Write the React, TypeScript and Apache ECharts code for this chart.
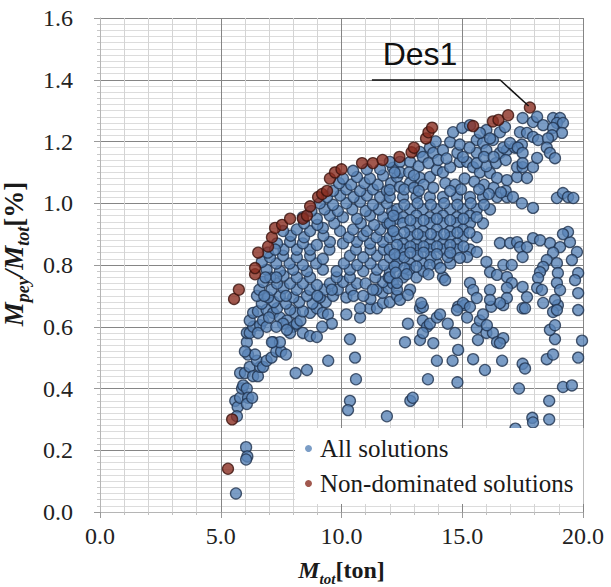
import React, { useEffect, useRef } from "react";
import * as echarts from "echarts";

// ---------- data ----------
const xTicks = [0, 5, 10, 15, 20];
const yTicks = [0, 0.2, 0.4, 0.6, 0.8, 1.0, 1.2, 1.4, 1.6];

const nonDominated: [number, number][] = [
  [5.3, 0.14], [5.47, 0.3], [5.55, 0.69], [5.75, 0.72], [6.42, 0.77], [6.42, 0.79],
  [6.55, 0.84], [6.96, 0.86], [7.12, 0.89], [7.25, 0.92], [7.54, 0.93], [7.87, 0.95],
  [8.4, 0.95], [8.57, 0.96], [8.7, 0.99], [9.03, 1.02], [9.2, 1.03], [9.4, 1.04],
  [9.52, 1.08], [9.73, 1.1], [10.0, 1.11], [10.85, 1.13], [11.3, 1.13], [11.7, 1.14],
  [12.4, 1.15], [12.9, 1.165], [13.0, 1.18], [13.5, 1.21], [13.6, 1.23], [13.75, 1.245],
  [15.45, 1.25], [16.27, 1.265], [16.5, 1.27], [16.9, 1.285], [17.8, 1.31],
];

const allSolutions: [number, number][] = [
  // lower-left tail
  [5.63, 0.06], [6.05, 0.21], [6.1, 0.18], [6.05, 0.17],
  [5.6, 0.36], [5.7, 0.34], [5.67, 0.31], [5.8, 0.37], [5.88, 0.4], [5.93, 0.41],
  [6.08, 0.4], [6.13, 0.37], [6.08, 0.35], [6.3, 0.37],
  [5.8, 0.45], [6.0, 0.45], [6.2, 0.47], [6.34, 0.44], [6.54, 0.44], [6.63, 0.47],
  [6.5, 0.49], [6.13, 0.51], [6.08, 0.55], [6.42, 0.51], [6.75, 0.47], [6.9, 0.49],
  [7.1, 0.5], [7.17, 0.55], [7.3, 0.52], [7.5, 0.52], [7.7, 0.51], [7.45, 0.55], [7.12, 0.55],
  [6.0, 0.52], [6.08, 0.58], [6.2, 0.58], [6.34, 0.6], [6.2, 0.62], [6.34, 0.645], [6.54, 0.65],
  [6.9, 0.655], [7.17, 0.645], [7.45, 0.63], [7.74, 0.62], [8.0, 0.6], [7.87, 0.58],
  [8.07, 0.645], [8.1, 0.45], [8.57, 0.46], [9.45, 0.49],
  [6.63, 0.605], [6.54, 0.58], [6.75, 0.62], [7.58, 0.61], [7.74, 0.59], [8.15, 0.61],
  [8.4, 0.58], [8.7, 0.57], [8.98, 0.567], [8.7, 0.645], [8.98, 0.66], [9.23, 0.645],
  [9.44, 0.64], [9.6, 0.61], [6.9, 0.6], [7.0, 0.63], [7.3, 0.6], [8.3, 0.62], [9.2, 0.6],
  // sparse lower-right field
  [10.2, 0.64], [10.77, 0.63], [10.35, 0.56], [10.56, 0.5], [10.6, 0.43], [10.35, 0.36],
  [10.27, 0.33], [11.88, 0.31], [12.85, 0.36], [12.95, 0.37], [13.58, 0.43], [13.95, 0.49],
  [14.6, 0.49], [14.8, 0.42], [14.83, 0.525], [15.45, 0.495], [15.94, 0.46], [16.65, 0.49],
  [17.5, 0.48], [17.6, 0.465], [17.35, 0.4], [17.2, 0.27], [17.9, 0.305], [17.93, 0.29],
  [18.6, 0.36], [18.6, 0.3], [18.5, 0.495], [18.76, 0.51], [18.84, 0.56], [18.63, 0.59],
  [18.84, 0.605], [19.17, 0.405], [19.54, 0.41], [19.8, 0.5], [19.96, 0.555], [18.96, 0.67],
  [12.75, 0.61], [12.63, 0.55], [13.25, 0.557], [13.37, 0.62], [13.54, 0.6], [13.66, 0.61],
  [13.37, 0.58], [13.8, 0.547], [13.95, 0.63], [14.08, 0.64], [14.4, 0.61], [14.7, 0.58],
  [14.83, 0.665], [15.1, 0.67], [15.2, 0.63], [15.6, 0.595], [15.73, 0.62], [15.86, 0.64],
  [15.65, 0.557], [16.0, 0.58], [16.27, 0.58], [16.44, 0.55], [16.7, 0.563], [16.2, 0.665],
  [16.7, 0.67], [17.5, 0.66], [16.56, 0.547], [16.02, 0.605], [18.76, 0.648],
  [11.18, 0.66], [11.47, 0.66], [11.72, 0.677], [12.0, 0.68], [13.25, 0.66], [13.37, 0.664],
  // dense arc, x 6.5 - 12.5
  [7.33, 0.66], [7.87, 0.655], [8.4, 0.65],
  [6.7, 0.675], [7.2, 0.68], [7.7, 0.675], [8.25, 0.68], [8.8, 0.675], [9.35, 0.68],
  [6.5, 0.7], [6.96, 0.695], [7.45, 0.7], [8.0, 0.695], [8.57, 0.7], [9.1, 0.695],
  [9.65, 0.7], [10.2, 0.695], [11.2, 0.69], [11.7, 0.71], [12.3, 0.7], [10.77, 0.66],
  [6.6, 0.72], [7.1, 0.72], [7.6, 0.725], [8.15, 0.72], [8.7, 0.72], [9.3, 0.72],
  [9.85, 0.72], [10.4, 0.72], [11.45, 0.72], [11.95, 0.725],
  [6.75, 0.745], [7.33, 0.74], [7.87, 0.74], [8.4, 0.74], [8.98, 0.735], [9.52, 0.74],
  [10.06, 0.745], [10.64, 0.74], [11.72, 0.745], [12.13, 0.74],
  [7.05, 0.76], [7.6, 0.765], [8.15, 0.76], [8.7, 0.76], [9.8, 0.76], [10.35, 0.76],
  [11.4, 0.76], [11.95, 0.76],
  [6.9, 0.785], [7.45, 0.78], [8.0, 0.785], [8.57, 0.78], [9.23, 0.785], [9.8, 0.78],
  [10.35, 0.785], [10.9, 0.78], [11.47, 0.785], [12.0, 0.78],
  [6.7, 0.81], [7.3, 0.805], [7.85, 0.805], [8.4, 0.8], [8.95, 0.805], [10.1, 0.805],
  [10.65, 0.8], [11.2, 0.805], [11.75, 0.8],
  [7.04, 0.825], [7.58, 0.83], [8.15, 0.825], [8.7, 0.83], [9.23, 0.82], [10.35, 0.83],
  [10.9, 0.825], [11.47, 0.83], [12.0, 0.825], [12.42, 0.83],
  [7.6, 0.85], [8.15, 0.85], [8.7, 0.85], [9.5, 0.85], [10.6, 0.85], [11.2, 0.85], [11.75, 0.85],
  [7.33, 0.87], [7.87, 0.875], [8.4, 0.87], [8.98, 0.865], [9.52, 0.875], [10.06, 0.87],
  [10.64, 0.875], [11.18, 0.87], [11.72, 0.875],
  [7.9, 0.895], [8.45, 0.89], [9.25, 0.895], [10.3, 0.89], [10.9, 0.895], [11.45, 0.89], [12.0, 0.89],
  [7.58, 0.91], [8.15, 0.915], [8.7, 0.91], [9.23, 0.92], [9.94, 0.91], [10.48, 0.915],
  [11.05, 0.91], [11.6, 0.915], [12.13, 0.91],
  [8.45, 0.935], [9.0, 0.93], [9.7, 0.935], [10.8, 0.935], [11.35, 0.93], [11.9, 0.935],
  [8.4, 0.955], [8.98, 0.95], [9.52, 0.96], [10.06, 0.955], [10.64, 0.95], [11.18, 0.96],
  [11.72, 0.955], [12.3, 0.95],
  [8.75, 0.975], [9.3, 0.98], [9.85, 0.975], [10.45, 0.98], [11.0, 0.975], [11.55, 0.98], [12.1, 0.975],
  [9.1, 1.0], [9.65, 0.995], [10.2, 1.0], [10.77, 1.005], [11.3, 0.995], [11.88, 1.0],
  [9.4, 1.02], [9.95, 1.025], [10.5, 1.02], [11.05, 1.025], [11.6, 1.02],
  [9.65, 1.04], [10.2, 1.045], [10.77, 1.04], [11.3, 1.045], [11.88, 1.04],
  [9.9, 1.065], [10.4, 1.06], [10.95, 1.065], [11.5, 1.06], [12.05, 1.065],
  [10.06, 1.08], [10.64, 1.085], [11.18, 1.08], [11.72, 1.09], [12.3, 1.085],
  [10.48, 1.105], [11.05, 1.11], [11.6, 1.11], [12.13, 1.115],
  [6.95, 0.84], [7.25, 0.85], [7.3, 0.76], [6.85, 0.76], [6.8, 0.7], [7.7, 0.7],
  [9.0, 0.7], [9.6, 0.72], [10.5, 0.7], [10.9, 0.7], [11.0, 0.74], [11.3, 0.72],
  // dense band, x 12 - 16
  [12.0, 1.02], [12.55, 1.02], [13.1, 1.02], [13.66, 1.02], [14.2, 1.02], [14.78, 1.02],
  [15.32, 1.02], [15.86, 1.02], [16.44, 1.02], [16.85, 1.02],
  [12.3, 0.98], [12.84, 0.98], [13.37, 0.98], [13.95, 0.98], [14.5, 0.98], [15.03, 0.98],
  [15.6, 0.98], [16.15, 0.98],
  [12.55, 0.955], [13.1, 0.96], [13.66, 0.955], [14.2, 0.96], [14.78, 0.955], [15.32, 0.96],
  [12.0, 0.935], [12.55, 0.935], [13.1, 0.935], [13.66, 0.935], [14.2, 0.935], [14.78, 0.935],
  [15.32, 0.935], [15.86, 0.935],
  [12.84, 0.915], [13.37, 0.91], [13.95, 0.915], [14.5, 0.91], [15.03, 0.915],
  [12.3, 0.89], [12.84, 0.89], [13.37, 0.89], [13.95, 0.89], [14.5, 0.89], [15.03, 0.89], [15.6, 0.89],
  [12.55, 0.87], [13.1, 0.87], [13.66, 0.87], [14.2, 0.87], [14.78, 0.87],
  [12.0, 0.85], [12.55, 0.85], [13.1, 0.85], [13.66, 0.85], [14.2, 0.85], [14.78, 0.85], [15.32, 0.85],
  [12.3, 0.805], [12.84, 0.805], [13.37, 0.805], [13.95, 0.805], [14.5, 0.805],
  [12.6, 0.825], [13.15, 0.83], [13.7, 0.825],
  [12.0, 0.76], [12.55, 0.76], [13.1, 0.76], [14.2, 0.76], [12.8, 0.785], [13.4, 0.78],
  [12.3, 0.72], [12.84, 0.72], [12.3, 0.742], [12.42, 0.687], [12.75, 0.703], [13.3, 0.677],
  [15.2, 0.826], [15.6, 0.842], [14.9, 0.823], [14.4, 0.826],
  [12.15, 0.96], [12.85, 0.945], [13.4, 0.945], [13.95, 0.95], [14.5, 0.945], [15.05, 0.95], [15.6, 0.955],
  [12.15, 0.91], [12.6, 0.905], [13.15, 0.9], [13.7, 0.9], [14.25, 0.9], [14.8, 0.905], [15.3, 0.905],
  [12.3, 0.865], [12.85, 0.86], [13.4, 0.86], [13.95, 0.86], [14.5, 0.865], [15.05, 0.86],
  [12.2, 0.835], [12.85, 0.84], [13.4, 0.84], [13.95, 0.835], [14.5, 0.84],
  [12.2, 0.795], [12.6, 0.79], [13.1, 0.795], [13.65, 0.8], [14.1, 0.79],
  [12.25, 0.775], [12.7, 0.77], [13.6, 0.77],
  [12.6, 0.995], [13.15, 1.0], [13.7, 0.995], [14.25, 1.0], [14.8, 0.995], [15.35, 1.0], [15.9, 0.995],
  [12.0, 1.043], [12.42, 1.053], [12.84, 1.066], [13.25, 1.082], [13.66, 1.085], [13.95, 1.108],
  [14.2, 1.1], [14.5, 1.117], [14.9, 1.134], [15.2, 1.134], [15.45, 1.117], [15.73, 1.1],
  [16.15, 1.098], [16.44, 1.082], [16.85, 1.075], [17.27, 1.085], [17.68, 1.082],
  [12.6, 1.045], [13.0, 1.05], [13.4, 1.06], [13.8, 1.05], [14.3, 1.065], [14.7, 1.06],
  [15.1, 1.08], [15.5, 1.07], [15.9, 1.06], [16.3, 1.05], [16.8, 1.04], [17.1, 1.02],
  [16.1, 1.03], [16.6, 1.035], [15.7, 1.045], [14.95, 1.045], [14.5, 1.04], [13.2, 1.04],
  [12.0, 1.134], [12.42, 1.134], [12.84, 1.134], [12.42, 1.1], [12.8, 1.1], [13.2, 1.12],
  [13.25, 1.166], [13.37, 1.15], [13.66, 1.18], [13.8, 1.163], [14.2, 1.172], [14.5, 1.198],
  [13.6, 1.13], [14.0, 1.14], [14.35, 1.145], [13.9, 1.2], [12.2, 1.1], [13.0, 1.09],
  [14.62, 1.23], [15.0, 1.244], [15.32, 1.253], [15.6, 1.205], [15.86, 1.195], [16.27, 1.205],
  [16.0, 1.237], [15.73, 1.228], [16.15, 1.21], [16.56, 1.23], [16.77, 1.247],
  [14.8, 1.163], [15.03, 1.15], [15.6, 1.163], [16.0, 1.172], [16.56, 1.163], [16.85, 1.172],
  [17.18, 1.18], [17.47, 1.19], [14.9, 1.19], [15.3, 1.18],
  [16.0, 1.12], [16.4, 1.13], [16.8, 1.14], [15.6, 1.13], [15.9, 1.15], [16.3, 1.15],
  [17.27, 1.117], [17.5, 1.117], [17.93, 1.117], [16.7, 1.18], [16.98, 1.195], [17.3, 1.18],
  [17.5, 1.163], [18.1, 1.147], [17.5, 1.13],
  // upper-right cluster
  [17.5, 1.276], [17.93, 1.263], [18.1, 1.28], [18.35, 1.253], [18.76, 1.276], [19.05, 1.276],
  [18.92, 1.26], [19.17, 1.26], [18.76, 1.244], [19.13, 1.228], [18.72, 1.22],
  [17.39, 1.23], [17.68, 1.228], [17.93, 1.215], [18.14, 1.205], [18.55, 1.21],
  [18.5, 1.18], [18.63, 1.163], [18.84, 1.146],
  // right side
  [17.47, 1.0], [17.93, 0.985], [18.92, 1.017], [19.17, 1.033], [19.38, 1.02], [19.6, 1.017],
  [16.56, 0.871], [16.98, 0.871], [17.27, 0.874], [17.39, 0.858], [17.68, 0.858], [17.93, 0.887],
  [18.63, 0.871], [19.05, 0.858], [19.46, 0.874], [19.38, 0.907], [18.22, 0.88], [18.76, 0.84],
  [19.17, 0.9],
  [16.0, 0.81], [16.7, 0.8], [17.05, 0.8], [17.5, 0.826], [16.15, 0.777], [16.44, 0.768],
  [16.85, 0.761], [17.05, 0.742],
  [18.5, 0.816], [18.35, 0.794], [18.22, 0.777], [18.14, 0.758], [18.1, 0.726], [18.3, 0.719],
  [18.92, 0.806], [18.96, 0.774], [18.92, 0.742], [19.05, 0.719], [19.75, 0.842], [19.54, 0.816],
  [19.8, 0.774], [19.67, 0.751], [19.8, 0.709],
  [14.29, 0.751], [15.32, 0.742], [15.45, 0.719], [16.15, 0.719], [16.85, 0.726], [16.85, 0.693],
  [16.56, 0.677], [16.15, 0.687], [15.6, 0.693], [15.03, 0.677], [14.78, 0.654], [15.32, 0.664],
  [17.5, 0.729], [17.68, 0.696], [18.35, 0.677], [18.84, 0.687], [18.92, 0.654], [17.6, 0.66],
  [19.8, 0.654],
];

const des1Label: [number, number] = [13.25, 1.483];
const des1Elbow: [number, number] = [16.56, 1.4];
const des1LineStart: [number, number] = [11.26, 1.4];
const des1Point: [number, number] = [17.75, 1.315];

const serif = "'Liberation Serif', 'Times New Roman', serif";

export default function App() {
  const ref = useRef<HTMLDivElement>(null);
  useEffect(() => {
    if (!ref.current) return;
    const chart = echarts.init(ref.current, null, { renderer: "svg" });
    const xRich = {
      m: { fontFamily: serif, fontSize: 24, fontWeight: "bold", fontStyle: "italic", color: "#1a1a1a", lineHeight: 28, verticalAlign: "top" },
      s: { fontFamily: serif, fontSize: 15, fontWeight: "bold", fontStyle: "italic", color: "#1a1a1a", lineHeight: 14, verticalAlign: "bottom" },
      b: { fontFamily: serif, fontSize: 24, fontWeight: "bold", color: "#1a1a1a", lineHeight: 28, verticalAlign: "top" },
    };
    const yRich = {
      m: { fontFamily: serif, fontSize: 27, fontWeight: "bold", fontStyle: "italic", color: "#1a1a1a", lineHeight: 32, verticalAlign: "top" },
      s: { fontFamily: serif, fontSize: 18, fontWeight: "bold", fontStyle: "italic", color: "#1a1a1a", lineHeight: 16, verticalAlign: "bottom" },
      b: { fontFamily: serif, fontSize: 27, fontWeight: "bold", color: "#1a1a1a", lineHeight: 32, verticalAlign: "top" },
    };
    chart.setOption({
      animation: false,
      backgroundColor: "#ffffff",
      grid: { left: 100, right: 28, top: 18, bottom: 75, containLabel: false, outerBoundsMode: "none" },
      xAxis: {
        type: "value",
        min: xTicks[0],
        max: xTicks[xTicks.length - 1],
        interval: xTicks[1] - xTicks[0],
        name: "{m|M}{s|tot}{b|[ton]}",
        nameLocation: "middle",
        nameGap: 46,
        nameTextStyle: { rich: xRich },
        axisLine: { lineStyle: { color: "#b5b5b5", width: 1 } },
        axisTick: { show: true, length: 6, lineStyle: { color: "#9a9a9a" } },
        minorTick: { show: true, splitNumber: 5, length: 3, lineStyle: { color: "#c0c0c0" } },
        axisLabel: { fontFamily: serif, fontSize: 24, color: "#222", margin: 12, formatter: (v: number) => v.toFixed(1) },
        splitLine: { show: true, lineStyle: { color: "#858585", width: 1 } },
        minorSplitLine: { show: true, lineStyle: { color: "#d4d4d4", width: 1 } },
      },
      yAxis: {
        type: "value",
        min: yTicks[0],
        max: yTicks[yTicks.length - 1],
        interval: yTicks[1] - yTicks[0],
        name: "{m|M}{s|pey}{m|/M}{s|tot}{b|[%]}",
        nameLocation: "middle",
        nameRotate: 90,
        nameGap: 58,
        nameTextStyle: { rich: yRich, padding: [0, 0, 0, 22] },
        axisLine: { show: true, lineStyle: { color: "#b5b5b5", width: 1 } },
        axisTick: { show: true, length: 6, lineStyle: { color: "#9a9a9a" } },
        minorTick: { show: true, splitNumber: 10, length: 3, lineStyle: { color: "#c8c8c8" } },
        axisLabel: { fontFamily: serif, fontSize: 24, color: "#222", margin: 27, formatter: (v: number) => v.toFixed(1) },
        splitLine: { show: true, lineStyle: { color: "#858585", width: 1 } },
        minorSplitLine: { show: true, lineStyle: { color: "#dcdcdc", width: 1 } },
      },
      legend: {
        orient: "vertical",
        left: 295,
        top: 428,
        backgroundColor: "#ffffff",
        padding: [8, 10, 8, 10],
        itemGap: 10,
        itemWidth: 7,
        itemHeight: 7,
        icon: "circle",
        textStyle: { fontFamily: serif, fontSize: 25, color: "#1a1a1a", padding: [0, 0, 0, 3] },
        data: [
          { name: "All solutions", itemStyle: { color: "#5a84b8", borderWidth: 0 } },
          { name: "Non-dominated solutions", itemStyle: { color: "#8a2e22", borderWidth: 0 } },
        ],
      },
      series: [
        {
          name: "All solutions",
          type: "scatter",
          data: allSolutions,
          symbol: "circle",
          symbolSize: 11,
          itemStyle: { color: "#5a84b8", borderColor: "#1f324d", borderWidth: 1.3 },
          z: 2,
        },
        {
          name: "Non-dominated solutions",
          type: "scatter",
          data: nonDominated,
          symbol: "circle",
          symbolSize: 11,
          itemStyle: { color: "#8a2e22", borderColor: "#3a120c", borderWidth: 1.3 },
          z: 3,
          markLine: {
            silent: true,
            symbol: ["none", "none"],
            label: { show: false },
            lineStyle: { color: "#111", width: 1.5, type: "solid" },
            data: [
              [{ coord: des1LineStart }, { coord: des1Elbow }],
              [{ coord: des1Elbow }, { coord: des1Point }],
            ],
          },
          markPoint: {
            silent: true,
            symbol: "circle",
            symbolSize: 1,
            itemStyle: { color: "rgba(0,0,0,0)" },
            label: {
              show: true,
              position: "inside",
              formatter: "Des1",
              fontFamily: "'Liberation Sans', Arial, sans-serif",
              fontSize: 32,
              color: "#111",
            },
            data: [{ coord: des1Label }],
          },
        },
      ],
    });
    return () => chart.dispose();
  }, []);
  return <div ref={ref} style={{ width: 611, height: 587, position: "absolute", left: 0, top: 0 }} />;
}
